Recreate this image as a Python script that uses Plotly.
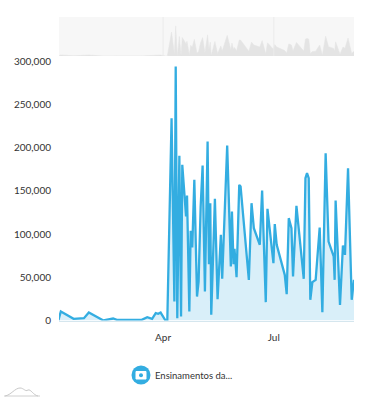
import pandas as pd
import plotly.graph_objects as go

# Days relative to 1 April, and audience values
day_offsets = [-86, -84, -73.5, -65, -61, -49, -41, -38, -17.5, -13, -9, -6, -4, -2, 2, 3.5,
               7, 9.3, 10.4, 11.7, 13.4, 14.8, 15.8, 18.9, 19.7, 21.6, 22.7, 24, 25.7, 27.9, 29.2, 30.9,
               32.5, 34.4, 36.6, 37.7, 38.8, 39.6, 42.6, 44.8, 47.5, 48.6, 52.7, 55.7, 56.6, 57.9, 58.7, 59.6,
               60.4, 62.6, 63.7, 70.5, 72.7, 74.6, 79.5, 81.4, 84.4, 85.8, 90.7, 91.8, 93.4, 100,
               101.6, 103.3, 105.5, 106.8, 109.6, 115.6, 117, 118.3, 119.7, 121, 122.7, 125.4, 128.7, 130.9,
               133.6, 136, 140.2, 141, 141.8, 145.4, 147.8, 149.5, 152, 155, 156.9]
values = [0, 10400, 1900, 2700, 9200, 0, 2300, 800, 800, 3900, 1900, 8500, 7700, 9200, 0, 0,
          233900, 22000, 293600, 2700, 190400, 4600, 180000, 120200, 144500, 10400, 103700, 84400, 162600, 27700, 45000, 131800,
          179200, 33500, 206900, 65000, 135600, 6600, 140700, 24700, 99000, 48200, 202300, 62400, 126000, 65000, 82900, 64400,
          50000, 156800, 154900, 47000, 135600, 106700, 87500, 150300, 21200, 129100, 66300, 111400, 87500, 52800,
          30400, 118300, 106700, 50900, 132600, 48200, 164500, 170300, 164500, 23900, 44300, 47000, 107500, 9600,
          193400, 91300, 74000, 47000, 138700, 18100, 86700, 75900, 176100, 23900, 47000]
y_ticks = [0, 50000, 100000, 150000, 200000, 250000, 300000]
month_ticks = ["2019-04-01", "2019-07-01"]
month_labels = ["Apr", "Jul"]
legend_label = "Ensinamentos da..."

dates = pd.Timestamp("2019-04-01") + pd.to_timedelta(day_offsets, unit="D")
x_range = [pd.Timestamp("2019-04-01") + pd.Timedelta(days=-85.5), pd.Timestamp("2019-04-01") + pd.Timedelta(days=156.9)]

W, H = 365, 400
BLUE = "#33ADE1"
FONT = "Lato"

def px(x):
    return x / W

def py(y):
    return 1 - y / H

fig = go.Figure()
fig.add_trace(go.Scatter(x=dates, y=values, mode="lines", line=dict(color=BLUE, width=2.3, shape="linear"),
                         fill="tozeroy", fillcolor="#D9EFF9", hoverinfo="skip", showlegend=False,
                         xaxis="x", yaxis="y"))
fig.add_trace(go.Scatter(x=dates, y=values, mode="lines", line=dict(color="#E4E4E4", width=0.5),
                         fill="tozeroy", fillcolor="#E4E4E4", hoverinfo="skip", showlegend=False,
                         xaxis="x2", yaxis="y2"))

shapes = [
    dict(type="rect", xref="paper", yref="paper", x0=px(59), x1=px(354), y0=py(56), y1=py(17),
         fillcolor="#F7F7F7", line=dict(width=0), layer="below"),
    dict(type="line", xref="x2", yref="paper", x0=month_ticks[0], x1=month_ticks[0], y0=py(56), y1=py(17),
         line=dict(color="#EBEBEB", width=1), layer="above"),
    dict(type="line", xref="x2", yref="paper", x0=month_ticks[1], x1=month_ticks[1], y0=py(56), y1=py(17),
         line=dict(color="#EBEBEB", width=1), layer="above"),
    dict(type="circle", xref="paper", yref="paper", x0=px(131.5), x1=px(150.5), y0=py(384.5), y1=py(365.5),
         fillcolor=BLUE, line=dict(width=0)),
    dict(type="rect", xref="paper", yref="paper", x0=px(136), x1=px(146), y0=py(379), y1=py(371.5),
         fillcolor="white", line=dict(color="white", width=1)),
    dict(type="circle", xref="paper", yref="paper", x0=px(139), x1=px(143), y0=py(377.2), y1=py(373.2),
         fillcolor=BLUE, line=dict(width=0)),
    dict(type="line", xref="paper", yref="paper", x0=px(4), x1=px(40), y0=py(396), y1=py(396),
         line=dict(color="#D0D0D0", width=1)),
    dict(type="path", xref="paper", yref="paper",
         path=f"M {px(5)} {py(396)} C {px(11)} {py(395)} {px(15)} {py(388)} {px(20)} {py(388)} "
              f"C {px(24)} {py(388)} {px(25)} {py(392)} {px(28)} {py(390)} "
              f"C {px(31)} {py(389)} {px(33)} {py(395)} {px(38)} {py(396)}",
         line=dict(color="#C8C8C8", width=1)),
]

fig.update_layout(
    width=W, height=H, autosize=False,
    margin=dict(l=0, r=0, t=0, b=0, pad=0, autoexpand=False),
    paper_bgcolor="white", plot_bgcolor="white",
    font=dict(family=FONT, size=10, color="#333333"),
    showlegend=False,
    shapes=shapes,
    xaxis=dict(domain=[px(59), px(354)], range=x_range, type="date", tickmode="array",
               tickvals=month_ticks, ticktext=month_labels, showgrid=False, zeroline=False,
               showline=True, linecolor="#D5E6EE", linewidth=1, ticks="outside", ticklen=7, tickcolor="rgba(0,0,0,0)",
               tickfont=dict(family=FONT, size=10, color="#333333"), fixedrange=True, automargin=False),
    yaxis=dict(domain=[py(320.5), py(61)], range=[0, 300000], tickmode="array", tickvals=y_ticks,
               tickformat=",d", showgrid=False, zeroline=False, showline=False,
               ticks="outside", ticklen=5, tickcolor="rgba(0,0,0,0)",
               tickfont=dict(family=FONT, size=10, color="#333333"), fixedrange=True, automargin=False),
    xaxis2=dict(domain=[px(59), px(354)], range=x_range, type="date", anchor="y2", visible=False, fixedrange=True),
    yaxis2=dict(domain=[py(56), py(17)], range=[0, 380000], anchor="x2", visible=False, fixedrange=True),
    annotations=[dict(text=legend_label, xref="paper", yref="paper", x=px(152.5), y=py(375),
                      xanchor="left", yanchor="middle", showarrow=False,
                      font=dict(family=FONT, size=9.5, color="#333333"))],
)

fig.write_html("out.html", config=dict(displayModeBar=False),
               post_script="document.documentElement.style.margin='0';document.body.style.margin='0';document.body.style.overflow='hidden';")
